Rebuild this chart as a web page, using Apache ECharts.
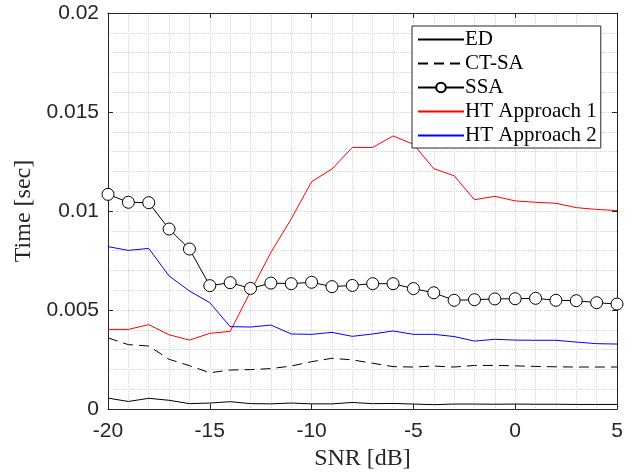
<!DOCTYPE html>
<html>
<head>
<meta charset="utf-8">
<script src="https://cdn.jsdelivr.net/npm/echarts@6/dist/echarts.min.js"></script>
<style>
  html, body { margin: 0; padding: 0; background: #fff; }
  #chart { width: 632px; height: 476px; }
</style>
</head>
<body>
<div id="chart"></div>
<script>
// SNR sweep (dB) and processing time per detector (sec)
const snr = [-20, -19, -18, -17, -16, -15, -14, -13, -12, -11, -10, -9, -8,
  -7, -6, -5, -4, -3, -2, -1, 0, 1, 2, 3, 4, 5];

const ed = [0.00055, 0.00038, 0.00054, 0.00044, 0.00027, 0.00030, 0.00037, 0.00027, 0.00026,
  0.00030, 0.00026, 0.00026, 0.00033, 0.00027, 0.00028, 0.00025, 0.00022, 0.00025, 0.00025,
  0.00024, 0.00025, 0.00024, 0.00024, 0.00023, 0.00023, 0.00023];

const ctsa = [0.00359, 0.00325, 0.00318, 0.00251, 0.00219, 0.00183, 0.00197, 0.00199, 0.00204,
  0.00217, 0.00239, 0.00256, 0.00248, 0.00231, 0.00214, 0.00212, 0.00217, 0.00212, 0.00220,
  0.00220, 0.00218, 0.00215, 0.00213, 0.00212, 0.00212, 0.00212];

const ssa = [0.01084, 0.01044, 0.01042, 0.00909, 0.00808, 0.00623, 0.00638, 0.00609, 0.00636,
  0.00633, 0.00640, 0.00618, 0.00624, 0.00633, 0.00633, 0.00608, 0.00587, 0.00549, 0.00552,
  0.00556, 0.00557, 0.00559, 0.00549, 0.00547, 0.00537, 0.00530];

const ht1 = [0.00402, 0.00402, 0.00426, 0.00375, 0.00348, 0.00382, 0.00392, 0.00593, 0.00791,
  0.00960, 0.01148, 0.01212, 0.01321, 0.01321, 0.01379, 0.01337, 0.01214, 0.01178, 0.01057,
  0.01074, 0.01051, 0.01044, 0.01039, 0.01017, 0.01008, 0.01002];

const ht2 = [0.00820, 0.00801, 0.00811, 0.00672, 0.00596, 0.00537, 0.00416, 0.00414, 0.00424,
  0.00379, 0.00377, 0.00387, 0.00367, 0.00379, 0.00394, 0.00377, 0.00377, 0.00366, 0.00343,
  0.00352, 0.00348, 0.00347, 0.00347, 0.00338, 0.00330, 0.00328];

const xTicks = [-20, -15, -10, -5, 0, 5];
const yTickLabels = ["0", "0.005", "0.01", "0.015", "0.02"];

const pairs = (ys) => snr.map((x, i) => [x, ys[i]]);

const AXIS = "#262626";
const GRID = "#d4d4d4";
const SERIF = '"Liberation Serif", "DejaVu Serif", serif';
const SANS = '"Liberation Sans", Arial, sans-serif';

const chart = echarts.init(document.getElementById("chart"), null, { renderer: "canvas" });

const boxAxis = {
  axisLine: { show: true, onZero: false, lineStyle: { color: AXIS, width: 1 } },
  axisTick: { show: true, inside: true, length: 5, lineStyle: { color: AXIS } },
  axisLabel: { show: false },
  splitLine: { show: false },
};

// line-only legend entries: hide the default dot
const noDot = { opacity: 0 };

chart.setOption({
  animation: false,
  backgroundColor: "#fff",
  grid: { left: 108, right: 15, top: 13, bottom: 67 },
  legend: {
    orient: "vertical",
    left: 412,
    top: 26,
    padding: [3, 4, 2, 5],
    itemWidth: 46,
    itemHeight: 12,
    itemGap: 3,
    backgroundColor: "#fff",
    borderColor: AXIS,
    borderWidth: 1,
    borderRadius: 0,
    textStyle: { fontFamily: SERIF, fontSize: 21, lineHeight: 21, color: "#000", padding: [0, 0, 0, -4] },
    data: [
      { name: "ED", itemStyle: noDot },
      { name: "CT-SA", itemStyle: noDot },
      { name: "SSA" },
      { name: "HT Approach 1", itemStyle: noDot },
      { name: "HT Approach 2", itemStyle: noDot },
    ],
  },
  xAxis: [
    {
      type: "value",
      min: xTicks[0],
      max: xTicks[xTicks.length - 1],
      interval: 5,
      name: "SNR [dB]",
      nameLocation: "middle",
      nameGap: 38,
      nameTextStyle: { fontFamily: SERIF, fontSize: 24, color: AXIS },
      axisLine: { onZero: false, lineStyle: { color: AXIS, width: 1 } },
      axisTick: { inside: true, length: 5, lineStyle: { color: AXIS } },
      axisLabel: { fontFamily: SANS, fontSize: 21, color: AXIS, margin: 12 },
      splitLine: { show: true, lineStyle: { color: GRID, type: "dotted", width: 1 } },
      minorTick: { show: false, splitNumber: 5 },
      minorSplitLine: { show: true, lineStyle: { color: GRID, type: "dotted", width: 1 } },
    },
    Object.assign({ type: "value", position: "top", min: -20, max: 5, interval: 5 }, boxAxis),
  ],
  yAxis: [
    {
      type: "value",
      min: 0,
      max: 0.02,
      interval: 0.005,
      name: "Time [sec]",
      nameLocation: "middle",
      nameGap: 70,
      nameTextStyle: { fontFamily: SERIF, fontSize: 24, color: AXIS },
      axisLine: { show: true, onZero: false, lineStyle: { color: AXIS, width: 1 } },
      axisTick: { show: true, inside: true, length: 5, lineStyle: { color: AXIS } },
      axisLabel: {
        fontFamily: SANS, fontSize: 21, color: AXIS, margin: 9,
        formatter: (v) => yTickLabels[Math.round(v / 0.005)],
      },
      splitLine: { show: true, lineStyle: { color: GRID, type: "dotted", width: 1 } },
      minorTick: { show: false, splitNumber: 5 },
      minorSplitLine: { show: true, lineStyle: { color: GRID, type: "dotted", width: 1 } },
    },
    Object.assign({ type: "value", position: "right", min: 0, max: 0.02, interval: 0.005 }, boxAxis),
  ],
  series: [
    {
      name: "ED", type: "line", data: pairs(ed), symbol: "none",
      color: "#000", lineStyle: { color: "#000", width: 1 },
    },
    {
      name: "CT-SA", type: "line", data: pairs(ctsa), symbol: "none",
      color: "#000", lineStyle: { color: "#000", width: 1, type: [10, 6] },
    },
    {
      name: "SSA", type: "line", data: pairs(ssa), symbol: "circle", symbolSize: 12,
      color: "#000", itemStyle: { color: "#fff", borderColor: "#000", borderWidth: 1 },
      lineStyle: { color: "#000", width: 1 },
    },
    {
      name: "HT Approach 1", type: "line", data: pairs(ht1), symbol: "none",
      color: "#ff0000", lineStyle: { color: "#ff0000", width: 1 },
    },
    {
      name: "HT Approach 2", type: "line", data: pairs(ht2), symbol: "none",
      color: "#0000ff", lineStyle: { color: "#0000ff", width: 1 },
    },
  ],
});
</script>
</body>
</html>
